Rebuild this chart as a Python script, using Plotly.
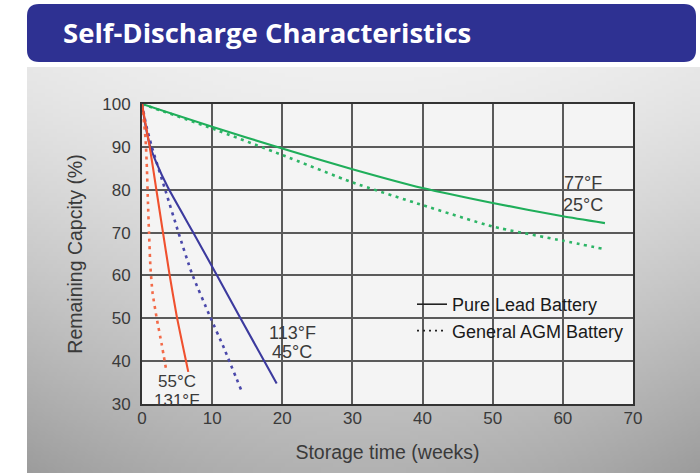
import base64
import struct
import zlib

import numpy as np
import plotly.graph_objects as go

# ---------------- data ----------------
weeks_pure_25 = [0, 10, 20, 30, 40, 50, 60, 66]
cap_pure_25 = [100, 94.7, 89.6, 84.8, 80.4, 76.9, 73.8, 72.2]
weeks_agm_25 = [0, 10, 20, 30, 40, 50, 60, 66]
cap_agm_25 = [100, 94.3, 88.1, 81.7, 76.4, 71.4, 68.1, 66.1]

weeks_pure_45 = [0, 0.5, 1.1, 2, 3.7, 7.2, 10.6, 14, 19.2]
cap_pure_45 = [100, 95, 90.5, 86.5, 80.5, 70.3, 60.3, 50.1, 34.8]
weeks_agm_45 = [0, 0.6, 1.4, 3.4, 5.2, 7.1, 9.7, 11.7, 14.2]
cap_agm_45 = [100, 95, 90, 79.5, 70, 60.5, 50.4, 43, 33]

weeks_pure_55 = [0, 1.1, 2.0, 2.9, 3.9, 4.95, 6.6]
cap_pure_55 = [100, 90, 80.5, 71, 60.5, 50.5, 37.5]
weeks_agm_55 = [0, 0.5, 0.7, 0.85, 1.0, 1.2, 1.5, 2.1, 2.8, 3.5]
cap_agm_55 = [100, 92, 85, 77, 70, 62, 56, 50, 44, 37.5]

temp_labels = ["77°F", "25°C", "113°F", "45°C", "55°C", "131°F"]
legend_names = ["Pure Lead Battery", "General AGM Battery"]
x_ticks = [0, 10, 20, 30, 40, 50, 60, 70]
y_ticks = [30, 40, 50, 60, 70, 80, 90, 100]

# ---------------- layout helpers ----------------
W, H = 700, 473
ML, MR, MT, MB = 142, 67, 104, 69
PW, PH = W - ML - MR, H - MT - MB


def px_x(px):
    return (px - ML) / PW


def px_y(py):
    return (H - MB - py) / PH


def png_uri(arr):
    h, w, _ = arr.shape
    raw = b"".join(b"\x00" + arr[r].tobytes() for r in range(h))

    def chunk(tag, data):
        c = struct.pack(">I", len(data)) + tag + data
        return c + struct.pack(">I", zlib.crc32(tag + data) & 0xFFFFFFFF)

    png = (b"\x89PNG\r\n\x1a\n"
           + chunk(b"IHDR", struct.pack(">IIBBBBB", w, h, 8, 2, 0, 0, 0))
           + chunk(b"IDAT", zlib.compress(raw, 9))
           + chunk(b"IEND", b""))
    return "data:image/png;base64," + base64.b64encode(png).decode()


# grey gradient panel
PX0, PX1, PY0, PY1 = 27, 700, 67, 473
gw, gh = 168, 102
xs = PX0 + (np.arange(gw) + 0.5) * (PX1 - PX0) / gw
ys = PY0 + (np.arange(gh) + 0.5) * (PY1 - PY0) / gh
XX, YY = np.meshgrid(xs, ys)
t = (YY - PY0) / (PY1 - PY0)
u = (XX - 363) / 337
val = 240 - 62 * t ** 1.3 - 22 * u ** 2 * (0.4 + 0.6 * t)
val = np.clip(val, 0, 255).astype(np.uint8)
grad = np.stack([val, val, val], axis=-1)


def rounded(x0, y0, x1, y1, r):
    pts = [("M", x0 + r, y0), ("L", x1 - r, y0), ("Q", x1, y0, x1, y0 + r),
           ("L", x1, y1 - r), ("Q", x1, y1, x1 - r, y1), ("L", x0 + r, y1),
           ("Q", x0, y1, x0, y1 - r), ("L", x0, y0 + r), ("Q", x0, y0, x0 + r, y0)]
    s = ""
    for p in pts:
        coords = p[1:]
        parts = [f"{px_x(coords[i]):.5f},{px_y(coords[i + 1]):.5f}"
                 for i in range(0, len(coords), 2)]
        s += p[0] + " " + " ".join(parts) + " "
    return s + "Z"


GREEN = "#1fae5a"
GREEN_D = "#2db566"
BLUE = "#3c3a9e"
BLUE_D = "#4a48aa"
RED = "#f0502e"
RED_D = "#f36a48"
DOT = "3px,4.5px"

fig = go.Figure()


def add(xv, yv, color, dotted):
    fig.add_trace(go.Scatter(
        x=xv, y=yv, mode="lines", showlegend=False, hoverinfo="skip",
        line=dict(color=color, width=2.6 if dotted else 2.1,
                  dash=DOT if dotted else "solid",
                  shape="spline", smoothing=0.5)))


add(weeks_agm_25, cap_agm_25, GREEN_D, True)
add(weeks_pure_25, cap_pure_25, GREEN, False)
add(weeks_agm_45, cap_agm_45, BLUE_D, True)
add(weeks_pure_45, cap_pure_45, BLUE, False)
add(weeks_agm_55, cap_agm_55, RED_D, True)
add(weeks_pure_55, cap_pure_55, RED, False)

# legend entries (black keys as in the reference)
fig.add_trace(go.Scatter(x=[None], y=[None], mode="lines", name=legend_names[0],
                         line=dict(color="#222", width=1.6)))
fig.add_trace(go.Scatter(x=[None], y=[None], mode="lines", name=legend_names[1],
                         line=dict(color="#222", width=1.6, dash="2px,4px")))

label_pos = [(62.9, 81.6), (62.9, 76.4), (21.4, 46.6), (21.4, 42.1), (5.0, 35.3), (5.0, 30.9)]
label_size = [18, 18, 18, 18, 17, 17]
annotations = []
for txt, (lx, ly), fs in zip(temp_labels, label_pos, label_size):
    annotations.append(dict(x=lx, y=ly, xref="x", yref="y", text=txt, showarrow=False,
                            font=dict(family="Liberation Sans, Arial, sans-serif", size=fs,
                                      color="#3a3a3a"),
                            xanchor="center", yanchor="middle"))

annotations.append(dict(
    x=px_x(61), y=px_y(32), xref="paper", yref="paper", xanchor="left", yanchor="middle",
    text="<b>Self-Discharge Characteristics</b>", showarrow=False,
    font=dict(family="Open Sans, sans-serif", size=27.5, color="white")))

shapes = [
    dict(type="path", xref="paper", yref="paper", path=rounded(27, 4, 696, 62, 12),
         fillcolor="#2e3192", line=dict(width=0), layer="below"),
    dict(type="rect", xref="paper", yref="paper", x0=0, x1=1, y0=0, y1=1,
         fillcolor="#f4f4f4", line=dict(width=0), layer="below"),
]

images = [dict(source=png_uri(grad), xref="paper", yref="paper",
               x=px_x(PX0), y=px_y(PY0), sizex=(PX1 - PX0) / PW, sizey=(PY1 - PY0) / PH,
               xanchor="left", yanchor="top", sizing="stretch", layer="below")]

axis_common = dict(
    showgrid=True, gridcolor="#5a5a5a", gridwidth=1.5, zeroline=False,
    showline=True, linecolor="#333", linewidth=2, mirror=True, ticks="",
    tickfont=dict(family="Liberation Sans, Arial, sans-serif", size=17, color="#3a3a3a"),
)

fig.update_layout(
    width=W, height=H,
    margin=dict(l=ML, r=MR, t=MT, b=MB),
    paper_bgcolor="white", plot_bgcolor="#f4f4f4",
    xaxis=dict(range=[0, 70], tickvals=x_ticks, ticklabelstandoff=-2,
               title=dict(text="Storage time (weeks)", standoff=18,
                          font=dict(family="Liberation Sans, Arial, sans-serif", size=19.5,
                                    color="#3a3a3a")),
               **axis_common),
    yaxis=dict(range=[30, 100], tickvals=y_ticks, ticklabelstandoff=6,
               title=dict(text="Remaining Capcity (%)", standoff=14,
                          font=dict(family="Liberation Sans, Arial, sans-serif", size=19.5,
                                    color="#3a3a3a")),
               **axis_common),
    legend=dict(x=px_x(412), y=px_y(286), xanchor="left", yanchor="top",
                bgcolor="rgba(0,0,0,0)", borderwidth=0, itemwidth=30,
                font=dict(family="Liberation Sans, Arial, sans-serif", size=18, color="#1a1a1a"),
                tracegroupgap=0),
    annotations=annotations,
    shapes=shapes,
    images=images,
)

fig.write_html("out.html", config={"displayModeBar": False},
               post_script="document.body.style.margin='0';document.body.style.padding='0';")
